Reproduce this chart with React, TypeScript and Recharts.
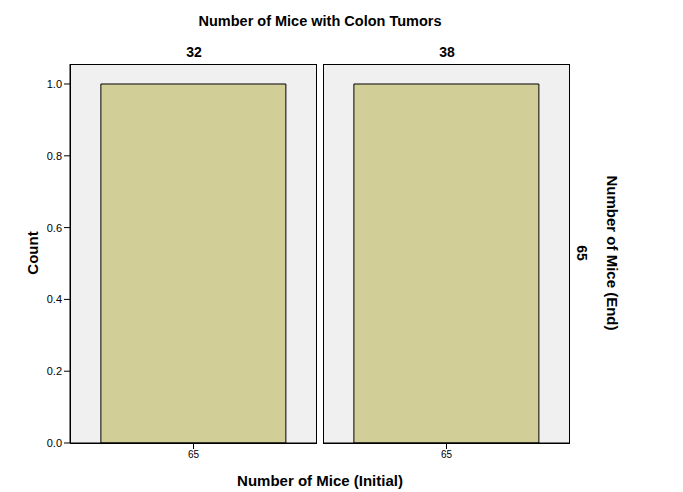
import React from "react";
import { BarChart, Bar, XAxis, YAxis } from "recharts";

const categories = ["65"];
const panelTitles = ["32", "38"];
const panelCounts = [[1], [1]];
const yTicks = [0, 0.2, 0.4, 0.6, 0.8, 1.0];
const rowLabel = "65";

const FONT = "'Liberation Sans', Arial, sans-serif";
const BAR_FILL = "#d2ce98";
const PANEL_BG = "#f0f0f0";

function panelData(i: number) {
  return categories.map((c, k) => ({ cat: c, count: panelCounts[i][k] }));
}

export default function App() {
  const H = 492;
  return (
    <div style={{ position: "absolute", left: 0, top: 0, width: 683, height: H, background: "#fff", fontFamily: FONT }}>
      {/* panel backgrounds */}
      <div style={{ position: "absolute", left: 70, top: 64, width: 247, height: 380, background: PANEL_BG, boxSizing: "border-box", border: "1px solid #000" }} />
      <div style={{ position: "absolute", left: 323, top: 64, width: 247, height: 380, background: PANEL_BG, boxSizing: "border-box", border: "1px solid #000" }} />
      {/* panel 1 */}
      <div style={{ position: "absolute", left: 0, top: 0 }}>
        <BarChart width={318} height={H} data={panelData(0)} margin={{ top: 64, right: 1, bottom: 0, left: 0 }} barCategoryGap="12.5%">
          <XAxis dataKey="cat" tickSize={6} axisLine={{ stroke: "#000" }} tickLine={{ stroke: "#000" }} tick={{ fill: "#000", fontSize: 10, fontFamily: FONT }} height={49} />
          <YAxis width={70} domain={[0, 1.0557]} ticks={yTicks} tickFormatter={(v: number) => v.toFixed(1)} tickSize={6} axisLine={{ stroke: "#000" }} tickLine={{ stroke: "#000" }} tick={{ fill: "#000", fontSize: 11, fontFamily: FONT }} interval={0} allowDataOverflow />
          <Bar dataKey="count" fill={BAR_FILL} stroke="#000" strokeWidth={1} isAnimationActive={false} />
        </BarChart>
      </div>
      {/* panel 2 */}
      <div style={{ position: "absolute", left: 323, top: 0 }}>
        <BarChart width={248} height={H} data={panelData(1)} margin={{ top: 64, right: 1, bottom: 0, left: 0 }} barCategoryGap="12.5%">
          <XAxis dataKey="cat" tickSize={6} axisLine={{ stroke: "#000" }} tickLine={{ stroke: "#000" }} tick={{ fill: "#000", fontSize: 10, fontFamily: FONT }} height={49} />
          <YAxis hide domain={[0, 1.0557]} ticks={yTicks} allowDataOverflow />
          <Bar dataKey="count" fill={BAR_FILL} stroke="#000" strokeWidth={1} isAnimationActive={false} />
        </BarChart>
      </div>
      {/* text overlay */}
      <svg width={683} height={H} style={{ position: "absolute", left: 0, top: 0, pointerEvents: "none" }}>
        <text x={320} y={21} textAnchor="middle" dominantBaseline="central" fontFamily={FONT} fontWeight="bold" fontSize={14.5} fill="#000">Number of Mice with Colon Tumors</text>
        <text x={194} y={52} textAnchor="middle" dominantBaseline="central" fontFamily={FONT} fontWeight="bold" fontSize={14} fill="#000">{panelTitles[0]}</text>
        <text x={447} y={52} textAnchor="middle" dominantBaseline="central" fontFamily={FONT} fontWeight="bold" fontSize={14} fill="#000">{panelTitles[1]}</text>
        <text x={320} y={480} textAnchor="middle" dominantBaseline="central" fontFamily={FONT} fontWeight="bold" fontSize={15} fill="#000">Number of Mice (Initial)</text>
        <text x={32} y={253} textAnchor="middle" dominantBaseline="central" fontFamily={FONT} fontWeight="bold" fontSize={15} fill="#000" transform="rotate(-90 32 253)">Count</text>
        <text x={582} y={253} textAnchor="middle" dominantBaseline="central" fontFamily={FONT} fontWeight="bold" fontSize={14} fill="#000" transform="rotate(90 582 253)">{rowLabel}</text>
        <text x={612} y={253} textAnchor="middle" dominantBaseline="central" fontFamily={FONT} fontWeight="bold" fontSize={15} fill="#000" transform="rotate(90 612 253)">Number of Mice (End)</text>
      </svg>
    </div>
  );
}
